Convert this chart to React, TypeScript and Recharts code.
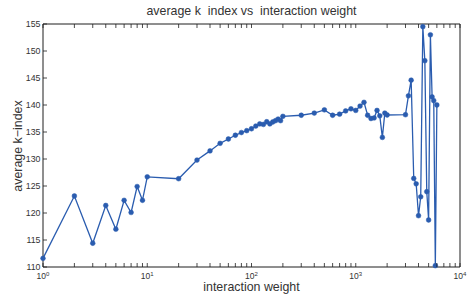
import React from 'react';
import { LineChart, Line, XAxis, YAxis, Label } from 'recharts';

// interaction weight (x) and average k-index (y)
const weights = [
  1, 2, 3, 4, 5, 6, 7, 8, 9, 10,
  20, 30, 40, 50, 60, 70, 80, 90,
  100, 110, 120, 130, 140, 150, 160, 170, 180, 190, 200,
  300, 400, 500, 600, 700, 800, 900, 1000,
  1100, 1200, 1300, 1400, 1500, 1600, 1700, 1800, 1900, 2000,
  3000, 3200, 3400, 3600, 3800, 4000, 4200, 4400, 4600, 4800, 5000, 5200, 5400, 5600, 5800, 6000,
];
const kIndex = [
  111.6, 123.15, 114.4, 121.4, 117.0, 122.35, 120.1, 124.9, 122.35, 126.7,
  126.35, 129.8, 131.5, 132.9, 133.7, 134.4, 134.9, 135.25,
  135.6, 136.1, 136.5, 136.4, 136.9, 136.5, 136.85, 137.1, 137.4, 137.1, 137.9,
  138.1, 138.5, 139.1, 138.1, 138.3, 138.9, 139.3, 139.0,
  139.8, 140.5, 138.1, 137.5, 137.6, 139.0, 138.0, 134.0, 138.5, 138.15,
  138.2, 141.7, 144.6, 126.4, 125.4, 119.5, 123.0, 154.5, 148.2, 123.95, 118.7, 153.0, 141.5, 140.8, 110.25, 140.0,
];

const xMajorTicks = [1, 10, 100, 1000, 10000];
const xMinorTicks = [
  2, 3, 4, 5, 6, 7, 8, 9,
  20, 30, 40, 50, 60, 70, 80, 90,
  200, 300, 400, 500, 600, 700, 800, 900,
  2000, 3000, 4000, 5000, 6000, 7000, 8000, 9000,
];
const yTicks = [110, 115, 120, 125, 130, 135, 140, 145, 150, 155];

const data = weights.map((w, i) => ({ weight: w, k: kIndex[i] }));
const xTicks = [...xMajorTicks, ...xMinorTicks].sort((a, b) => a - b);

const BLUE = '#2a5caf';
const AXIS = '#1e1e1e';
const TEXT = '#333';
const FONT = '"Liberation Sans", Arial, Helvetica, sans-serif';
const TICK_LEN = 4;

const BottomTick = (props: any) => {
  const { x, y, payload } = props;
  const v = payload.value;
  const major = xMajorTicks.includes(v);
  return (
    <g>
      <line x1={x} x2={x} y1={y} y2={y - TICK_LEN} stroke={AXIS} strokeWidth={0.8} />
      {major && (
        <text x={x} y={y + 12} textAnchor="middle" fontSize={8.5} fill={TEXT} fontFamily={FONT}>
          10
          <tspan dy={-3.5} fontSize={6}>
            {Math.round(Math.log10(v))}
          </tspan>
        </text>
      )}
    </g>
  );
};

const TopTick = (props: any) => {
  const { x, y } = props;
  return <line x1={x} x2={x} y1={y} y2={y + TICK_LEN} stroke={AXIS} strokeWidth={0.8} />;
};

const LeftTick = (props: any) => {
  const { x, y, payload } = props;
  return (
    <g>
      <line x1={x} x2={x + TICK_LEN} y1={y} y2={y} stroke={AXIS} strokeWidth={0.8} />
      <text x={x - 2.5} y={y + 3.2} textAnchor="end" fontSize={8.8} fill={TEXT} fontFamily={FONT}>
        {payload.value}
      </text>
    </g>
  );
};

const RightTick = (props: any) => {
  const { x, y } = props;
  return <line x1={x} x2={x - TICK_LEN} y1={y} y2={y} stroke={AXIS} strokeWidth={0.8} />;
};

export default function App() {
  return (
    <div style={{ position: 'absolute', left: 0, top: 0, width: 471, height: 297, background: '#fff', fontFamily: FONT }}>
      <div
        style={{
          position: 'absolute', left: 43, top: 4, width: 417, textAlign: 'center',
          fontSize: 12.4, lineHeight: '14px', color: TEXT, whiteSpace: 'pre',
        }}
      >
        {'average k  index vs  interaction weight'}
      </div>
      <div
        style={{
          position: 'absolute', left: 17.5, top: 145.5, transform: 'translate(-50%, -50%) rotate(-90deg)',
          fontSize: 12.4, lineHeight: '14px', color: TEXT, whiteSpace: 'nowrap',
        }}
      >
        average k−index
      </div>
      <LineChart width={471} height={297} data={data} margin={{ top: 0, right: 0, bottom: 0, left: 0 }}>
        <XAxis
          xAxisId="bottom" dataKey="weight" type="number" scale="log" domain={[1, 10000]}
          ticks={xTicks} interval={0} height={30} tickSize={0} tickMargin={0} tickLine={false}
          axisLine={{ stroke: AXIS }} tick={<BottomTick />}
        >
          <Label value="interaction weight" position="insideBottom" offset={6.5} fontSize={12.4} fill={TEXT} fontFamily={FONT} />
        </XAxis>
        <XAxis
          xAxisId="top" orientation="top" dataKey="weight" type="number" scale="log" domain={[1, 10000]}
          ticks={xTicks} interval={0} height={24} tickSize={0} tickMargin={0} tickLine={false}
          axisLine={{ stroke: AXIS }} tick={<TopTick />}
        />
        <YAxis
          yAxisId="left" type="number" domain={[110, 155]} ticks={yTicks} interval={0} width={43}
          tickSize={0} tickMargin={0} tickLine={false} axisLine={{ stroke: AXIS }} tick={<LeftTick />}
        />
        <YAxis
          yAxisId="right" orientation="right" type="number" domain={[110, 155]} ticks={yTicks} interval={0} width={11}
          tickSize={0} tickMargin={0} tickLine={false} axisLine={{ stroke: AXIS }} tick={<RightTick />}
        />
        <Line
          xAxisId="bottom" yAxisId="left" type="linear" dataKey="k" stroke={BLUE} strokeWidth={1.3}
          dot={{ r: 2.4, fill: BLUE, stroke: BLUE, strokeWidth: 0.5 }} activeDot={false} isAnimationActive={false}
        />
      </LineChart>
    </div>
  );
}
